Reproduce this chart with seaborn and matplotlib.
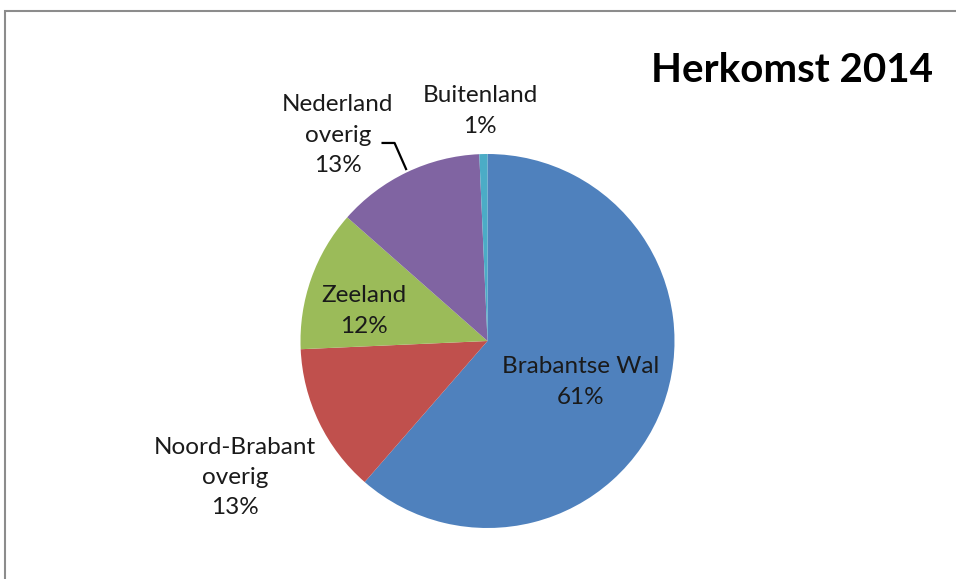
import matplotlib
matplotlib.use("Agg")
import matplotlib.pyplot as plt
from matplotlib.patches import Rectangle
import seaborn as sns

regions = ["Brabantse Wal", "Noord-Brabant\noverig", "Zeeland",
           "Nederland\noverig", "Buitenland"]
shares = [61.4, 12.9, 12.2, 12.8, 0.7]
title = "Herkomst 2014"

colors = ["#4F81BD", "#C0504D", "#9BBB59", "#8064A2", "#4BACC6"]

# label positions in pie-radius units (Excel placed them by hand)
label_pos = [(0.50, -0.22), (-1.35, -0.73), (-0.66, 0.16),
             (-0.80, 1.10), (-0.04, 1.23)]

sns.set_theme(style="white")
plt.rcParams["font.family"] = ["Lato", "DejaVu Sans"]

W, H = 956, 579
cx, cy, r = 487.5, 341, 187  # pie centre and radius in pixels

fig = plt.figure(figsize=(W / 100, H / 100), dpi=100)
fig.patch.set_facecolor("white")
ax = fig.add_axes([0, 0, 1, 1])

wedges, _ = ax.pie(shares, colors=sns.color_palette(colors), startangle=90,
                   counterclock=False, radius=1,
                   wedgeprops=dict(linewidth=0, antialiased=True))

ax.set_xlim(-cx / r, (W - cx) / r)
ax.set_ylim(-(H - cy) / r, cy / r)
ax.set_aspect("auto")
ax.axis("off")

total = sum(shares)
for name, val, (x, y) in zip(regions, shares, label_pos):
    ax.text(x, y, f"{round(100 * val / total)}%".join([f"{name}\n", ""]),
            ha="center", va="center",
            fontsize=17.5, color="#1a1a1a", linespacing=1.55)

# leader line for "Nederland overig"
ax.plot([-0.567, -0.497, -0.433], [1.059, 1.059, 0.914],
        color="black", linewidth=1.6, solid_capstyle="butt")

ax.text((933 - cx) / r, (cy - 70) / r, title, ha="right", va="center",
        fontsize=29, fontweight="bold", color="black")

# chart-area border (only top and left edges fall inside the image)
fig.patches.append(Rectangle((4.5 / W, -0.1), 1.2, (H - 10.5) / H + 0.1,
                             transform=fig.transFigure, fill=False,
                             edgecolor="#8c8c8c", linewidth=1.5))

fig.savefig("out.png", dpi=100)
